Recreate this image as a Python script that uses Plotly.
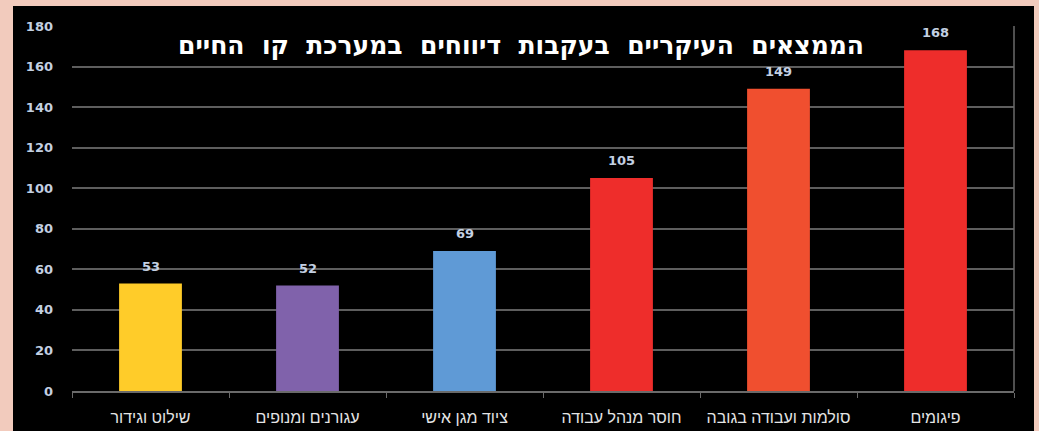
import plotly.graph_objects as go

categories = ["שילוט וגידור", "עגורנים ומנופים", "ציוד מגן אישי",
              "חוסר מנהל עבודה", "סולמות ועבודה בגובה", "פיגומים"]
values = [53, 52, 69, 105, 149, 168]
colors = ["#ffcc29", "#8062ab", "#5f9ad6", "#ee2d2b", "#f04f2f", "#ee2d2b"]
y_ticks = [0, 20, 40, 60, 80, 100, 120, 140, 160, 180]
title_text = "הממצאים העיקריים בעקבות דיווחים במערכת קו החיים"

W, H = 1039, 431
L, R, T, B = 72, 25, 26, 40
pw, ph = W - L - R, H - T - B

fig = go.Figure()
fig.add_trace(go.Bar(
    x=categories, y=values,
    marker=dict(color=colors, line=dict(width=0)),
    width=0.4,
    cliponaxis=False,
))

for c, v in zip(categories, values):
    fig.add_annotation(x=c, y=v, text=str(v), showarrow=False,
                       xanchor="center", yanchor="bottom", yshift=8,
                       font=dict(family="DejaVu Sans", size=13, color="#c3d0e2", weight="bold"))

# black panel
fig.add_shape(type="rect", xref="paper", yref="paper",
              x0=(13 - L) / pw, x1=(1034 - L) / pw,
              y0=(H - B - 431) / ph, y1=(H - B - 6) / ph,
              fillcolor="#000000", line=dict(width=0), layer="below")
# right frame line
fig.add_shape(type="line", xref="paper", yref="paper",
              x0=1, x1=1, y0=0, y1=1,
              line=dict(color="#6a6a6a", width=1.5))

fig.add_annotation(text=title_text.replace(" ", "\u00a0\u00a0"), xref="paper", yref="paper",
                   x=(521 - L) / pw, y=(H - B - 45) / ph,
                   xanchor="center", yanchor="middle", showarrow=False,
                   font=dict(family="DejaVu Sans", size=25, color="#ffffff", weight="bold"))

fig.update_layout(
    width=W, height=H,
    margin=dict(l=L, r=R, t=T, b=B, pad=0, autoexpand=False),
    paper_bgcolor="#f2cbbd",
    plot_bgcolor="#000000",
    showlegend=False,
    bargap=0.6,
    xaxis=dict(
        type="category",
        showgrid=False,
        showline=True, linecolor="#6a6a6a", linewidth=1.5,
        ticks="outside", tickson="boundaries", ticklen=5, tickcolor="#6a6a6a",
        ticklabelstandoff=11, tickangle=0, automargin=False,
        tickfont=dict(family="Liberation Sans", size=16, color="#e4e4e4"),
        zeroline=False,
    ),
    yaxis=dict(
        range=[0, 180],
        tickvals=y_ticks, automargin=False,
        showgrid=True, gridcolor="#5e5e5e", gridwidth=1.5,
        zeroline=False, showline=False,
        ticks="", ticklabelstandoff=18,
        tickfont=dict(family="DejaVu Sans", size=13, color="#c3d0e2", weight="bold"),
    ),
)

fig.write_html("out.html")
